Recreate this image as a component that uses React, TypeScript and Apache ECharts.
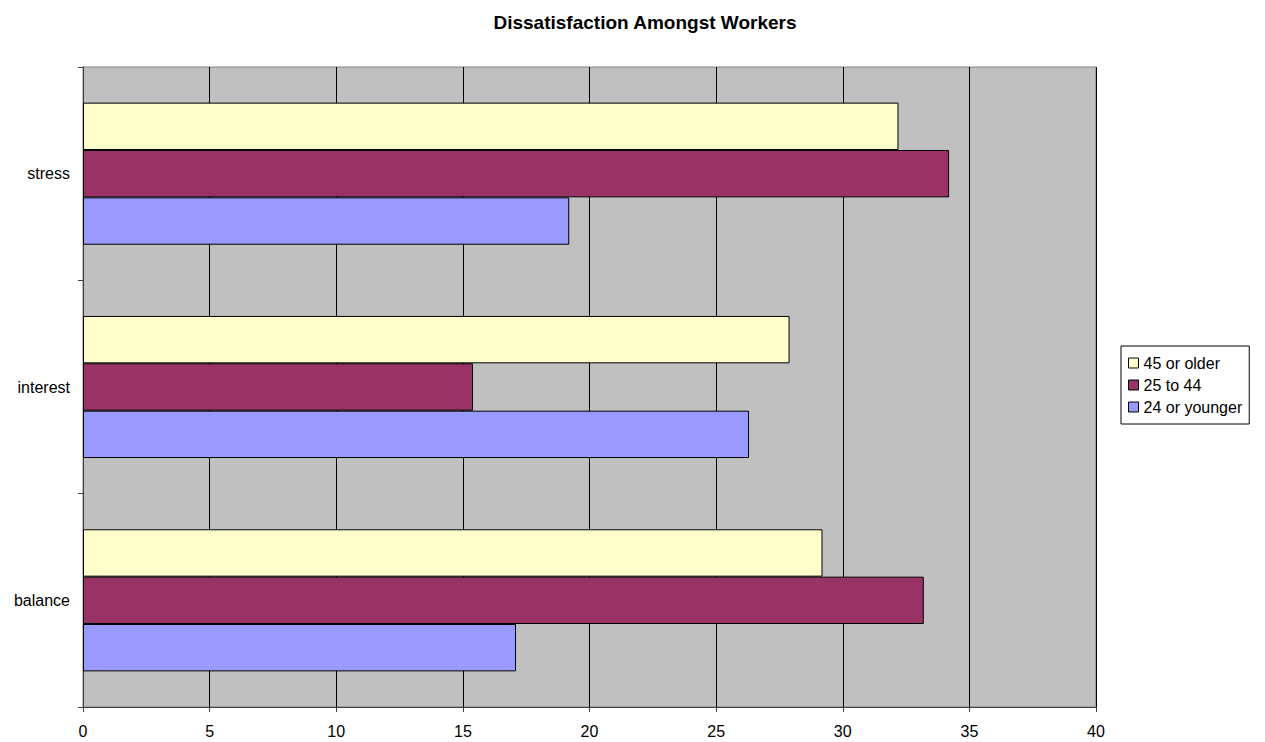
import React, { useEffect, useRef } from "react";
import * as echarts from "echarts";

const categories = ["balance", "interest", "stress"];
const seriesNames = ["45 or older", "25 to 44", "24 or younger"];
const older = [29.2, 27.9, 32.2];
const middle = [33.2, 15.4, 34.2];
const younger = [17.1, 26.3, 19.2];
const xTicks = { min: 0, max: 40, interval: 5 };
const colors = ["#ffffcc", "#993366", "#9999ff"];

export default function App() {
  const ref = useRef<HTMLDivElement>(null);
  useEffect(() => {
    if (!ref.current) return;
    const chart = echarts.init(ref.current, undefined, { renderer: "svg" });
    const font = "'Liberation Sans', Arial, sans-serif";
    const data = [older, middle, younger];
    chart.setOption({
      animation: false,
      backgroundColor: "#ffffff",
      title: {
        text: "Dissatisfaction Amongst Workers",
        left: 640,
        textAlign: "center",
        top: 8,
        textStyle: { fontFamily: font, fontSize: 19, fontWeight: "bold", color: "#000" },
      },
      legend: {
        orient: "vertical",
        left: 1121,
        top: 346,
        data: ["45 or older", "25 to 44", "24 or younger"],
        itemWidth: 10,
        itemHeight: 10,
        itemGap: 6,
        padding: [9, 7, 9, 7],
        borderColor: "#000",
        borderWidth: 1,
        borderRadius: 0,
        backgroundColor: "#fff",
        textStyle: { fontFamily: font, fontSize: 16, color: "#000", lineHeight: 16 },
        icon: "rect",
        itemStyle: { borderColor: "#000", borderWidth: 1 },
      },
      grid: {
        left: 83,
        top: 67,
        right: 169,
        bottom: 35,
        show: true,
        backgroundColor: "#c0c0c0",
        borderColor: "#808080",
        borderWidth: 1,
      },
      xAxis: {
        type: "value",
        min: xTicks.min,
        max: xTicks.max,
        interval: xTicks.interval,
        axisLine: { show: true, lineStyle: { color: "#404040", width: 1 } },
        axisTick: { show: true, length: 5, lineStyle: { color: "#404040" } },
        axisLabel: { fontFamily: font, fontSize: 16, color: "#000", margin: 16 },
        splitLine: { show: true, lineStyle: { color: "#000", width: 1 } },
      },
      yAxis: {
        type: "category",
        data: categories,
        axisLine: { show: true, lineStyle: { color: "#404040", width: 1 } },
        axisTick: { show: true, length: 5, lineStyle: { color: "#404040" } },
        axisLabel: { fontFamily: font, fontSize: 16, color: "#000", margin: 13 },
        splitLine: { show: false },
      },
      series: seriesNames.map((name, i) => ({
        name,
        type: "bar",
        data: data[i],
        barGap: "0%",
        barCategoryGap: "33.4%",
        itemStyle: { color: colors[i], borderColor: "#000", borderWidth: 1 },
      })),
    });
    return () => chart.dispose();
  }, []);
  return (
    <div
      ref={ref}
      style={{ position: "absolute", left: 0, top: 0, width: 1265, height: 742 }}
    />
  );
}
